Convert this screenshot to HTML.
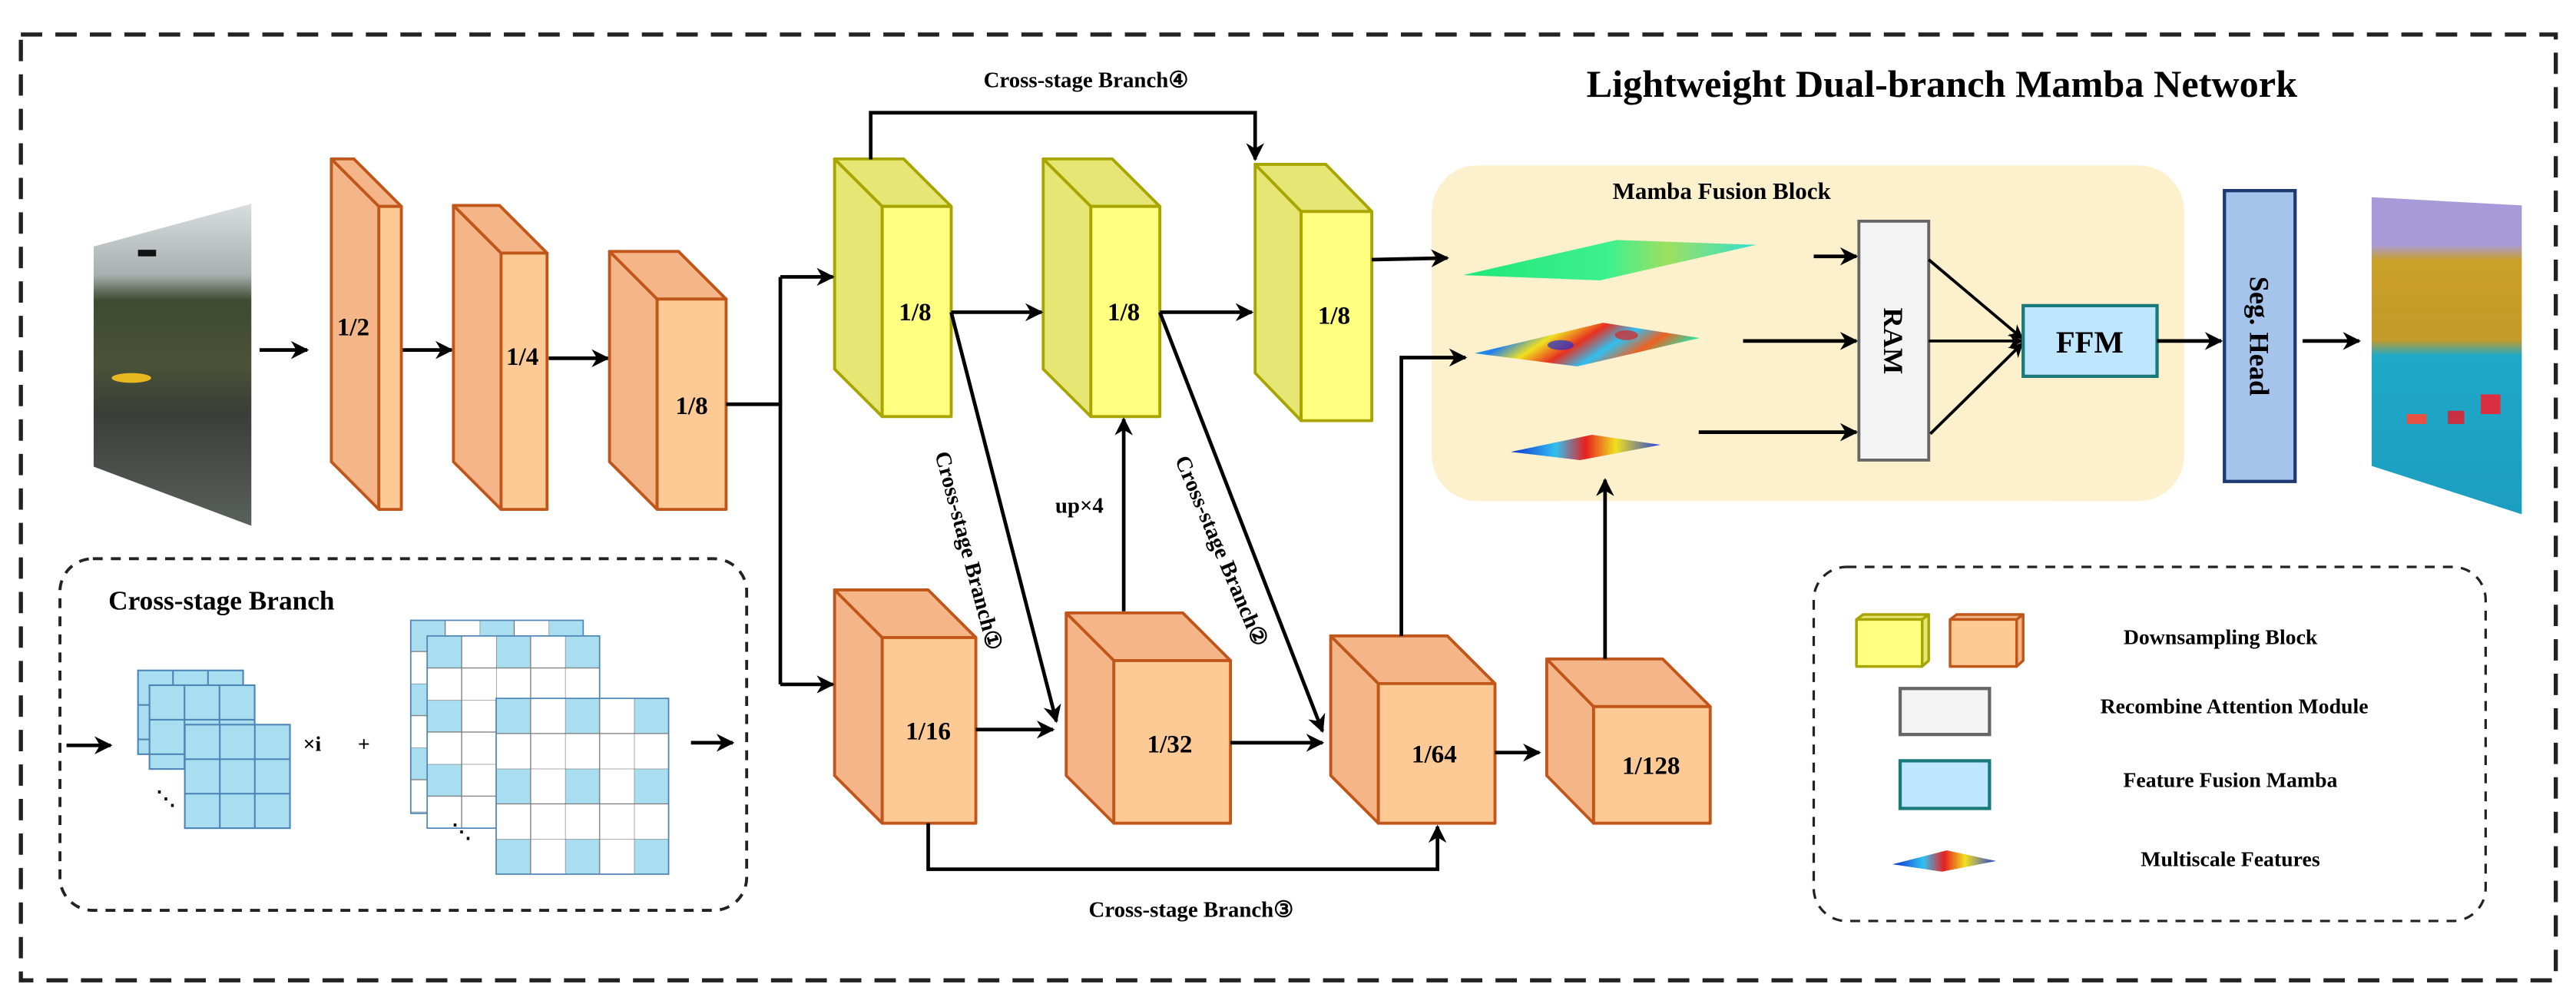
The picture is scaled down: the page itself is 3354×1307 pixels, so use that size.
<!DOCTYPE html>
<html><head><meta charset="utf-8"><style>
html,body{margin:0;padding:0;background:#fff;}
svg{display:block;}
svg text{font-family:"Liberation Serif","Times New Roman","DejaVu Serif",serif;font-weight:bold;fill:#000;}
</style></head><body>
<svg width="3354" height="1307" viewBox="0 0 1568 611" xmlns="http://www.w3.org/2000/svg" font-family="Liberation Serif, serif">
<defs>
<marker id="ah" viewBox="0 0 10 10" refX="9" refY="5" markerWidth="5" markerHeight="5" orient="auto" markerUnits="strokeWidth"><path d="M0,0 L10,5 L0,10 L3,5 z" fill="#000"/></marker>
<pattern id="chkF" patternUnits="userSpaceOnUse" width="42" height="42.8" x="302" y="425"><rect width="42" height="42.8" fill="#fff"/><rect width="21" height="21.4" fill="#a8def0"/><path d="M21,0V42.8M0,21.4H42M0,0H42M0,0V42.8" stroke="#777" stroke-width="0.6" fill="none"/></pattern>
<pattern id="chkB" patternUnits="userSpaceOnUse" width="42" height="39" x="250" y="377"><rect width="42" height="39" fill="#fff"/><rect width="21" height="19.5" fill="#a8def0"/><path d="M21,0V39M0,19.5H42M0,0H42M0,0V39" stroke="#777" stroke-width="0.6" fill="none"/></pattern>
<pattern id="chkM" patternUnits="userSpaceOnUse" width="42" height="39" x="260" y="387"><rect width="42" height="39" fill="#fff"/><rect width="21" height="19.5" fill="#a8def0"/><path d="M21,0V39M0,19.5H42M0,0H42M0,0V39" stroke="#777" stroke-width="0.6" fill="none"/></pattern>
<linearGradient id="photo" x1="0" y1="0" x2="0" y2="1"><stop offset="0" stop-color="#d8dde0"/><stop offset="0.22" stop-color="#aab0b0"/><stop offset="0.3" stop-color="#3f4a30"/><stop offset="0.5" stop-color="#4a5238"/><stop offset="0.65" stop-color="#3a3e38"/><stop offset="1" stop-color="#5a605c"/></linearGradient>
<linearGradient id="seg" x1="0" y1="0" x2="0" y2="1"><stop offset="0" stop-color="#a89ad8"/><stop offset="0.15" stop-color="#a89ad8"/><stop offset="0.2" stop-color="#c9a028"/><stop offset="0.45" stop-color="#c49a2a"/><stop offset="0.5" stop-color="#1fa8c8"/><stop offset="1" stop-color="#1c9ec0"/></linearGradient>
<linearGradient id="f1" x1="0" y1="0" x2="1" y2="0"><stop offset="0" stop-color="#1ee878"/><stop offset="0.5" stop-color="#3ef090"/><stop offset="0.7" stop-color="#9ee060"/><stop offset="1" stop-color="#30e0d0"/></linearGradient>
<linearGradient id="f2" x1="0" y1="0" x2="1" y2="0.3"><stop offset="0" stop-color="#30e080"/><stop offset="0.25" stop-color="#2080f0"/><stop offset="0.4" stop-color="#f0e020"/><stop offset="0.55" stop-color="#e83020"/><stop offset="0.7" stop-color="#30c0f0"/><stop offset="0.85" stop-color="#f06020"/><stop offset="1" stop-color="#30e0a0"/></linearGradient>
<linearGradient id="f3" x1="0" y1="0" x2="1" y2="0"><stop offset="0" stop-color="#1030d0"/><stop offset="0.3" stop-color="#30c0f0"/><stop offset="0.5" stop-color="#e82020"/><stop offset="0.7" stop-color="#f0e020"/><stop offset="1" stop-color="#2040e0"/></linearGradient>
</defs>

<rect x="12.7" y="21" width="1543" height="575.6" fill="none" stroke="#222" stroke-width="2.5" stroke-dasharray="13 8"/>

<text x="1182" y="59" font-size="23.5" text-anchor="middle">Lightweight Dual-branch Mamba Network</text>

<!-- Mamba fusion block background (drawn first) -->
<rect x="871.5" y="100.6" width="458" height="204.4" rx="28" fill="#fdf0cd"/>

<polygon points="57,150 153,124 153,320 57,284" fill="url(#photo)"/>
<ellipse cx="80" cy="230" rx="12" ry="3" fill="#e8b820"/>
<rect x="84" y="152" width="11" height="4" fill="#111"/>

<g stroke="#000" stroke-width="2.2" fill="none" marker-end="url(#ah)">
<line x1="158" y1="213" x2="187" y2="213"/>
<line x1="244" y1="213" x2="275" y2="213"/>
<line x1="334" y1="218" x2="370" y2="218"/>
</g>

<g stroke="#c0561a" stroke-width="1.8" stroke-linejoin="round">
<polygon points="201.7,96.7 230.6,125.6 230.6,310 201.7,281" fill="#f4b688"/>
<polygon points="201.7,96.7 215.4,96.7 244.3,125.6 230.6,125.6" fill="#f4b688"/>
<rect x="230.6" y="125.6" width="13.7" height="184.4" fill="#fdc995"/>
<polygon points="276,125 305,154 305,310 276,281" fill="#f4b688"/>
<polygon points="276,125 304,125 333,154 305,154" fill="#f4b688"/>
<rect x="305" y="154" width="28" height="156" fill="#fdc995"/>
<polygon points="371,153 400,182 400,310 371,281" fill="#f4b688"/>
<polygon points="371,153 413,153 442,182 400,182" fill="#f4b688"/>
<rect x="400" y="182" width="42" height="128" fill="#fdc995"/>
<polygon points="508,359 537,388 537,501 508,472" fill="#f4b688"/>
<polygon points="508,359 565,359 594,388 537,388" fill="#f4b688"/>
<rect x="537" y="388" width="57" height="113" fill="#fdc995"/>
<polygon points="649,373 678,402 678,501 649,472" fill="#f4b688"/>
<polygon points="649,373 720,373 749,402 678,402" fill="#f4b688"/>
<rect x="678" y="402" width="71" height="99" fill="#fdc995"/>
<polygon points="810,387 839,416 839,501 810,472" fill="#f4b688"/>
<polygon points="810,387 881,387 910,416 839,416" fill="#f4b688"/>
<rect x="839" y="416" width="71" height="85" fill="#fdc995"/>
<polygon points="941.5,401 970,430 970,501 941.5,472" fill="#f4b688"/>
<polygon points="941.5,401 1012,401 1041,430 970,430" fill="#f4b688"/>
<rect x="970" y="430" width="71" height="71" fill="#fdc995"/>
</g>

<g stroke="#a8a400" stroke-width="1.8" stroke-linejoin="round">
<polygon points="508,96.7 537,125.6 537,253.5 508,224.6" fill="#e6e674"/>
<polygon points="508,96.7 550,96.7 579,125.6 537,125.6" fill="#e6e674"/>
<rect x="537" y="125.6" width="42" height="127.9" fill="#ffff80"/>
<polygon points="635,96.7 664,125.6 664,253.5 635,224.6" fill="#e6e674"/>
<polygon points="635,96.7 677,96.7 706,125.6 664,125.6" fill="#e6e674"/>
<rect x="664" y="125.6" width="42" height="127.9" fill="#ffff80"/>
<polygon points="764,100 792,128.7 792,256 764,227" fill="#e6e674"/>
<polygon points="764,100 807,100 835,128.7 792,128.7" fill="#e6e674"/>
<rect x="792" y="128.7" width="43" height="127.3" fill="#ffff80"/>
</g>

<g font-size="15.5" text-anchor="middle">
<text x="215" y="204">1/2</text>
<text x="318" y="222">1/4</text>
<text x="421" y="252">1/8</text>
<text x="557" y="195">1/8</text>
<text x="684" y="195">1/8</text>
<text x="812" y="197">1/8</text>
<text x="565" y="450">1/16</text>
<text x="712" y="458">1/32</text>
<text x="873" y="464">1/64</text>
<text x="1005" y="471">1/128</text>
</g>

<g stroke="#000" stroke-width="2.2" fill="none">
<polyline points="442,246 475,246 475,168.5"/>
<line x1="475" y1="246" x2="475" y2="416.5"/>
<g marker-end="url(#ah)">
<line x1="475" y1="168.5" x2="507" y2="168.5"/>
<line x1="475" y1="416.5" x2="507" y2="416.5"/>
<line x1="579" y1="190" x2="634" y2="190"/>
<line x1="706" y1="190" x2="762" y2="190"/>
<polyline points="530,97 530,68.6 764,68.6 764,97"/>
<line x1="594" y1="444" x2="641" y2="444"/>
<line x1="749" y1="452" x2="805" y2="452"/>
<line x1="910" y1="458" x2="937" y2="458"/>
<line x1="684" y1="372" x2="684" y2="255"/>
<line x1="579" y1="190" x2="643" y2="439"/>
<line x1="706" y1="190" x2="805" y2="445"/>
<polyline points="565,501 565,529 875,529 875,503"/>
<polyline points="853,387 853,217.6 892,217.6"/>
<line x1="977" y1="401" x2="977" y2="292"/>
<line x1="835" y1="158" x2="881" y2="157"/>
<line x1="1104" y1="156" x2="1130" y2="156"/>
<line x1="1061" y1="207.5" x2="1130" y2="207.5"/>
<line x1="1034" y1="263" x2="1130" y2="263"/>
</g>
</g>

<g font-size="13.5" text-anchor="middle">
<text x="661" y="53">Cross-stage Branch④</text>
<text x="725" y="558">Cross-stage Branch③</text>
<text x="657" y="312">up×4</text>
<text transform="translate(590,335) rotate(75)" y="5">Cross-stage Branch①</text>
<text transform="translate(744,335) rotate(67)" y="5">Cross-stage Branch②</text>
</g>

<text x="1048" y="121" font-size="14.5" text-anchor="middle">Mamba Fusion Block</text>
<polygon points="890.6,167.4 984,146 1069,149 974,170.6" fill="url(#f1)"/>
<polygon points="897.6,215 975.7,196.4 1034.6,205.7 960,223" fill="url(#f2)"/>
<polygon points="919.6,275 969,264.6 1010.8,270.7 961.7,280" fill="url(#f3)"/>
<ellipse cx="950" cy="210" rx="8" ry="3" fill="#2030d0" opacity="0.7"/>
<ellipse cx="990" cy="204" rx="7" ry="3" fill="#e02020" opacity="0.7"/>

<rect x="1131.5" y="134.6" width="42.5" height="145.4" fill="#f3f3f3" stroke="#666" stroke-width="1.8"/>
<text transform="translate(1152.8,207.5) rotate(90)" font-size="17" text-anchor="middle" y="6">RAM</text>
<g stroke="#000" stroke-width="1.8" fill="none" marker-end="url(#ah)">
<line x1="1174" y1="158" x2="1231" y2="206"/>
<line x1="1174" y1="207.5" x2="1231" y2="207.5"/>
<line x1="1175" y1="264" x2="1231" y2="209"/>
</g>
<rect x="1231.5" y="186" width="81.5" height="43" fill="#bfe6ff" stroke="#1a7a7a" stroke-width="2"/>
<text x="1272" y="214.5" font-size="19" text-anchor="middle">FFM</text>
<g stroke="#000" stroke-width="2.2" fill="none" marker-end="url(#ah)">
<line x1="1313" y1="207.5" x2="1352" y2="207.5"/>
<line x1="1401.6" y1="207.5" x2="1436" y2="207.5"/>
</g>
<rect x="1354" y="116" width="43" height="177" fill="#a4c4ec" stroke="#1f3a70" stroke-width="2"/>
<text transform="translate(1375.5,204.5) rotate(90)" font-size="17" text-anchor="middle" y="6">Seg. Head</text>

<polygon points="1443.6,120 1535,125 1535,313 1443.6,283.5" fill="url(#seg)"/>
<rect x="1465" y="252" width="12" height="6" fill="#e85040"/>
<rect x="1490" y="250" width="10" height="8" fill="#c83040"/>
<rect x="1510" y="240" width="12" height="12" fill="#d83040"/>

<rect x="36.5" y="340" width="418" height="214" rx="20" fill="none" stroke="#222" stroke-width="1.8" stroke-dasharray="6 5"/>
<text x="66" y="371" font-size="16.5">Cross-stage Branch</text>
<g stroke="#000" stroke-width="2.2" fill="none" marker-end="url(#ah)">
<line x1="40.5" y1="453.6" x2="67.4" y2="453.6"/>
<line x1="420.6" y1="452" x2="446" y2="452"/>
</g>
<g stroke="#4f86b8" stroke-width="1">
<rect x="84" y="408" width="64" height="51" fill="#a8def0"/>
<path d="M105.3,408V459M126.6,408V459M84,429H148M84,450H148" fill="none"/>
<rect x="91" y="417" width="64" height="51" fill="#a8def0"/>
<path d="M112.3,417V468M133.6,417V468M91,438H155M91,459H155" fill="none"/>
<rect x="112.5" y="441" width="64" height="63" fill="#a8def0"/>
<path d="M133.8,441V504M155.1,441V504M112.5,462H176.5M112.5,483H176.5" fill="none"/>
</g>
<text x="101" y="490" font-size="12" text-anchor="middle">⋱</text>
<text x="190" y="457" font-size="13" text-anchor="middle">×i</text>
<text x="221.5" y="457" font-size="13" text-anchor="middle">+</text>
<rect x="250" y="377.5" width="105" height="117.5" fill="url(#chkB)" stroke="#4f86b8" stroke-width="0.8"/>
<rect x="260" y="387" width="105" height="117" fill="url(#chkM)" stroke="#4f86b8" stroke-width="0.8"/>
<rect x="302" y="425" width="105" height="107" fill="url(#chkF)" stroke="#4f86b8" stroke-width="0.8"/>
<text x="281" y="510" font-size="12" text-anchor="middle">⋱</text>

<rect x="1104" y="345" width="409" height="215.5" rx="20" fill="none" stroke="#222" stroke-width="1.5" stroke-dasharray="6 5"/>
<g stroke-width="1.6" stroke-linejoin="round">
<polygon points="1130,377 1134,374 1174,374 1170,377" fill="#e6e674" stroke="#a8a400"/>
<polygon points="1170,377 1174,374 1174,402 1170,405.6" fill="#e6e674" stroke="#a8a400"/>
<rect x="1130" y="377" width="40" height="28.6" fill="#ffff80" stroke="#a8a400"/>
<polygon points="1187,377 1191,374 1231.5,374 1227.5,377" fill="#f4b688" stroke="#c0561a"/>
<polygon points="1227.5,377 1231.5,374 1231.5,402 1227.5,405.6" fill="#f4b688" stroke="#c0561a"/>
<rect x="1187" y="377" width="40.5" height="28.6" fill="#fdc995" stroke="#c0561a"/>
</g>
<rect x="1156.6" y="419" width="54.4" height="28" fill="#f3f3f3" stroke="#666" stroke-width="2"/>
<rect x="1156.6" y="463" width="54.4" height="29" fill="#bfe6ff" stroke="#1a7a7a" stroke-width="2"/>
<polygon points="1152,526 1185,517.5 1215,524 1182,530.5" fill="url(#f3)"/>
<g font-size="13" text-anchor="middle">
<text x="1351.6" y="392">Downsampling Block</text>
<text x="1360" y="434">Recombine Attention Module</text>
<text x="1357.6" y="479">Feature Fusion Mamba</text>
<text x="1357.6" y="527">Multiscale Features</text>
</g>
</svg>
</body></html>
